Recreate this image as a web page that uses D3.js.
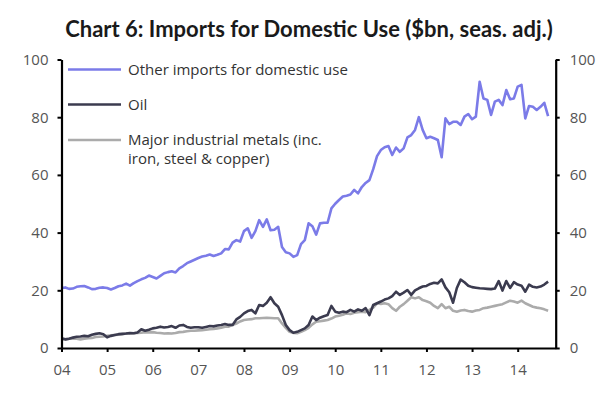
<!DOCTYPE html>
<html>
<head>
    <script src="https://d3js.org/d3.v7.min.js"></script>
<style>
    body { margin: 0; background: #fff; }
    text { font-family: "Open Sans", Lato, sans-serif; }
</style>
</head>
<body>

<script>

    // monthly values, Jan 2004 .. Sep 2014 ($bn)
    var startYear = 2004;

    var otherImports = [
        20.8, 21.0, 20.5, 20.6, 21.2, 21.4, 21.5, 21.0, 20.4, 20.5, 20.9, 21.0,
        20.8, 20.3, 20.8, 21.4, 21.7, 22.3, 21.6, 22.5, 23.2, 23.8, 24.3, 25.1,
        24.6, 24.1, 25.0, 25.9, 26.3, 26.6, 26.2, 27.6, 28.4, 29.4, 30.0, 30.6,
        31.2, 31.7, 32.0, 32.4, 31.9, 32.3, 32.8, 34.3, 34.2, 36.5, 37.4, 36.9,
        40.5, 41.5, 38.2, 40.5, 44.3, 42.0, 44.6, 40.8, 41.0, 42.0, 35.0, 33.2,
        32.8, 31.6, 32.2, 36.0, 37.4, 43.2, 42.2, 39.3, 43.2, 43.4, 43.4, 48.4,
        50.0, 51.3, 52.5, 52.8, 53.2, 54.8, 53.6, 55.8, 57.2, 58.2, 62.0, 66.5,
        68.6, 69.6, 70.0, 66.9, 69.5, 68.0, 69.2, 73.0, 73.8, 75.6, 80.0, 75.6,
        72.7, 73.2, 72.7, 72.1, 66.1, 79.6, 77.6, 78.4, 78.4, 77.3, 80.2, 81.1,
        79.3, 80.2, 92.3, 86.5, 86.0, 80.8, 85.4, 86.0, 84.2, 89.4, 86.2, 86.5,
        90.6, 91.2, 79.6, 83.9, 83.6, 82.5, 83.6, 85.0, 80.4
    ];

    var oil = [
        3.4, 3.0, 3.2, 3.6, 3.9, 4.0, 4.2, 4.1, 4.6, 4.9, 5.1, 4.8,
        3.7, 4.2, 4.5, 4.8, 4.9, 5.0, 5.2, 5.1, 5.4, 6.5, 6.0, 6.3,
        6.8, 7.0, 7.4, 7.1, 7.3, 7.6, 7.0, 7.8, 8.0, 7.3, 7.0, 7.2,
        7.2, 7.0, 7.3, 7.6, 7.5, 7.8, 8.0, 8.3, 8.0, 8.0, 9.9, 10.8,
        12.0, 12.8, 13.2, 12.0, 14.9, 14.6, 15.7, 17.6, 15.5, 14.3, 11.4, 8.0,
        6.2, 5.3, 5.6, 6.2, 6.8, 8.0, 10.9, 9.7, 10.5, 11.0, 11.4, 14.6,
        12.6, 12.2, 12.6, 12.4, 13.2, 12.6, 13.4, 12.9, 13.8, 11.4, 14.9, 15.5,
        16.1, 16.8, 17.2, 18.0, 19.5, 18.4, 19.2, 20.1, 18.4, 20.0, 20.7, 21.3,
        21.5, 22.2, 22.6, 22.4, 23.8, 21.0, 19.3, 15.7, 20.8, 23.7, 22.8, 21.6,
        21.1, 20.9, 20.7, 20.6, 20.5, 20.4, 20.6, 23.2, 19.9, 23.2, 20.8, 22.8,
        22.0, 21.6, 19.5, 22.0, 21.2, 21.0, 21.3, 22.0, 23.0
    ];

    var metals = [
        3.0, 3.0, 3.2, 3.3, 3.2, 3.0, 3.2, 3.4, 3.5, 3.8, 3.9, 4.0,
        4.2, 4.4, 4.5, 4.6, 4.8, 5.0, 5.0, 5.1, 5.2, 5.3, 5.5, 5.4,
        5.5, 5.3, 5.2, 5.0, 5.1, 5.0, 5.2, 5.5, 5.6, 5.8, 6.0, 6.0,
        6.1, 6.2, 6.3, 6.5, 6.6, 6.8, 7.0, 7.4, 7.4, 8.0, 8.5, 9.2,
        9.7, 9.9, 10.0, 10.3, 10.3, 10.4, 10.5, 10.4, 10.3, 10.3, 8.5, 7.0,
        5.6, 5.2, 5.1, 5.6, 6.2, 7.0, 8.2, 9.1, 9.3, 9.5, 9.7, 10.2,
        10.9, 11.2, 11.5, 12.0, 11.8, 12.2, 12.4, 12.6, 12.4, 13.2, 14.0, 15.5,
        15.3, 15.5, 15.2, 13.8, 12.9, 14.3, 15.2, 16.4, 17.6, 17.2, 17.6, 16.6,
        16.2, 15.7, 14.6, 13.8, 15.2, 13.8, 14.3, 12.9, 12.6, 13.0, 13.2, 12.8,
        12.6, 13.0, 13.2, 13.8, 14.0, 14.3, 14.6, 14.9, 15.2, 15.8, 16.4, 16.1,
        15.7, 16.4, 15.5, 14.9, 14.3, 14.0, 13.8, 13.4, 12.9
    ];

    var yearTicks = [2004, 2005, 2006, 2007, 2008, 2009, 2010, 2011, 2012, 2013, 2014];
    var valueTicks = [0, 20, 40, 60, 80, 100];

    var seriesNames = ['Other imports for domestic use', 'Oil', 'Major industrial metals (inc.|iron, steel & copper)'];
    var seriesColors = ['#7b7be8', '#3b3b4f', '#ababab'];

    // size
    var width = 610, height = 393;
    var margin = { left: 61.5, right: 555.7, top: 59.5, bottom: 348 };

    var svg = d3.select('body')
        .append('svg')
        .attr('width', width)
        .attr('height', height);

    svg.append('text')
        .attr('x', 309)
        .attr('y', 37)
        .attr('text-anchor', 'middle')
        .style('font-family', 'Lato, sans-serif')
        .style('font-size', '22px')
        .style('font-weight', 'bold')
        .style('fill', '#1a1a1a')
        .text('Chart 6: Imports for Domestic Use ($bn, seas. adj.)');

    // scales
    var xScale = d3.scaleLinear()
        .domain([startYear, 2014 + 10 / 12])
        .range([margin.left, margin.right]);
    var yScale = d3.scaleLinear()
        .domain([0, 100])
        .range([margin.bottom, margin.top]);

    // lines
    var line = d3.line()
        .x((d, i) => xScale(startYear + i / 12))
        .y(d => yScale(d));

    var series = [otherImports, oil, metals];
    [2, 1, 0].forEach(k => {
        svg.append('path')
            .datum(series[k])
            .attr('d', line)
            .attr('fill', 'none')
            .attr('stroke', seriesColors[k])
            .attr('stroke-width', 2.6)
            .attr('stroke-linejoin', 'round');
    });

    // axis
    var xAxis = d3.axisBottom(xScale)
        .tickValues(yearTicks)
        .tickFormat(d => String(d).slice(2))
        .tickSizeInner(4)
        .tickSizeOuter(0)
        .tickPadding(12);
    var yAxisL = d3.axisLeft(yScale).tickValues(valueTicks).tickSizeInner(4).tickSizeOuter(0).tickPadding(9);
    var yAxisR = d3.axisRight(yScale).tickValues(valueTicks).tickSizeInner(4).tickSizeOuter(0).tickPadding(10);

    var gx = svg.append('g')
        .attr('transform', 'translate(0,' + margin.bottom + ')')
        .call(xAxis);
    var gl = svg.append('g')
        .attr('transform', 'translate(' + margin.left + ',0)')
        .call(yAxisL);
    var gr = svg.append('g')
        .attr('transform', 'translate(' + margin.right + ',0)')
        .call(yAxisR);

    [gx, gl, gr].forEach(g => {
        g.select('.domain').attr('stroke', '#000').attr('stroke-width', 2.2);
        g.selectAll('.tick line').attr('stroke', '#000').attr('stroke-width', 2);
        g.selectAll('.tick text')
            .style('font-family', '"Open Sans", sans-serif')
            .style('font-size', '15px')
            .attr('fill', '#555');
    });

    // legend
    var legendY = [69.5, 104.5, 140];
    var legend = svg.append('g');
    seriesNames.forEach((name, k) => {
        legend.append('line')
            .attr('x1', 68).attr('x2', 121)
            .attr('y1', legendY[k]).attr('y2', legendY[k])
            .attr('stroke', seriesColors[k])
            .attr('stroke-width', 2.6);
        var t = legend.append('text')
            .attr('x', 128)
            .attr('y', legendY[k] + 5)
            .style('font-size', '15px')
            .style('fill', '#333');
        name.split('|').forEach((part, j) => {
            t.append('tspan')
                .attr('x', 128)
                .attr('dy', j ? 19 : 0)
                .text(part);
        });
    });

</script>
</body>
</html>
